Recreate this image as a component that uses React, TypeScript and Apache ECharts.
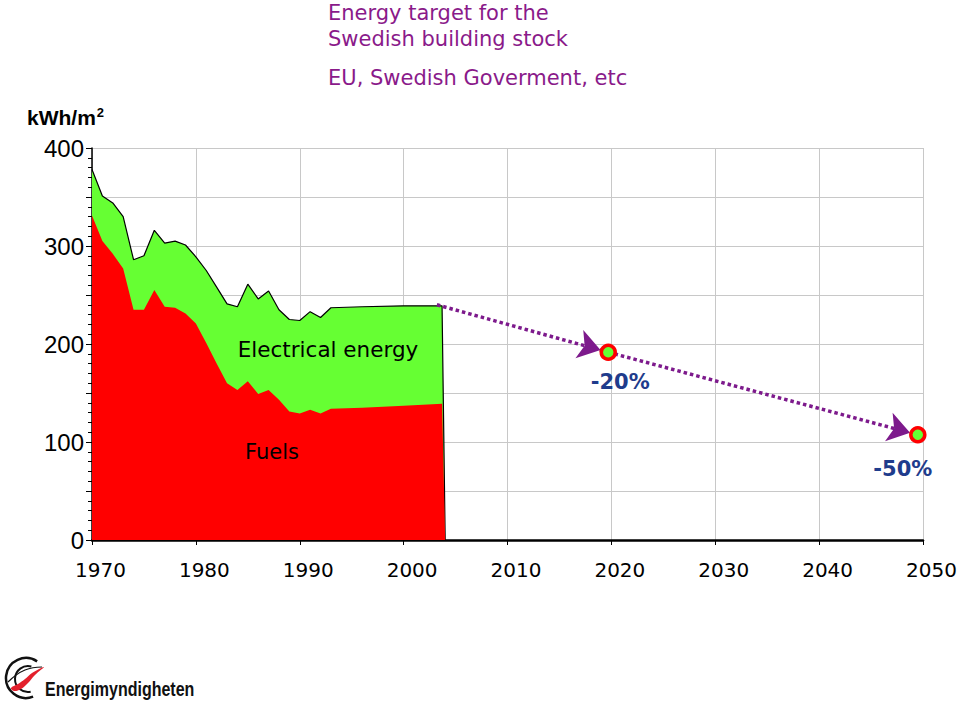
import React, { useEffect, useRef } from "react";
import * as echarts from "echarts";

// ---- data ----
const years = [
  1970, 1971, 1972, 1973, 1974, 1975, 1976, 1977, 1978, 1979, 1980, 1981, 1982,
  1983, 1984, 1985, 1986, 1987, 1988, 1989, 1990, 1991, 1992, 1993, 1996, 2000,
  2003.7, 2004,
];
const fuels = [
  331, 305, 292, 277, 235, 235, 255, 238, 237, 231, 221, 201, 180, 160, 153,
  162, 149, 153, 143, 131, 129, 133, 129, 134, 135, 137, 139, 0,
];
const electrical = [
  47, 46, 52, 53, 51, 55, 61, 65, 68, 70, 68, 74, 78, 81, 85, 99, 97, 101, 92,
  94, 95, 100, 98, 103, 103, 102, 100, 0,
];
// target path: start (end of statistics), 2020 target, 2050 target
const targetYears = [2003.2, 2019.7, 2049.5];
const targetValues = [240, 191.6, 107.4];
const targetLabels = ["", "-20%", "-50%"];

const xTicks = [1970, 1980, 1990, 2000, 2010, 2020, 2030, 2040, 2050];
const yTicks = [0, 100, 200, 300, 400];

const COMIC = "'Comic Sans MS', 'DejaVu Sans', sans-serif";
const PURPLE = "#8a1a8a";

export default function App() {
  const ref = useRef<HTMLDivElement>(null);

  useEffect(() => {
    if (!ref.current) return;
    const chart = echarts.init(ref.current, null, { renderer: "svg" });

    const totalData = years.map((y, i) => [y, fuels[i] + electrical[i]]);
    const fuelData = years.map((y, i) => [y, fuels[i]]);
    const targetPts = targetYears.map((y, i) => [y, targetValues[i]]);

    const option: any = {
      animation: false,
      backgroundColor: "#ffffff",
      title: {
        text: "Energy target for the\nSwedish building stock",
        subtext: "EU, Swedish Goverment, etc",
        left: 328,
        top: 0,
        itemGap: 13,
        padding: 0,
        textStyle: {
          color: PURPLE,
          fontFamily: COMIC,
          fontSize: 21,
          fontWeight: "normal",
          lineHeight: 26,
        },
        subtextStyle: {
          color: PURPLE,
          fontFamily: COMIC,
          fontSize: 21,
          lineHeight: 26,
        },
      },
      grid: { left: 92, top: 148, width: 831, height: 392, containLabel: false },
      xAxis: {
        type: "value",
        min: xTicks[0],
        max: xTicks[xTicks.length - 1],
        interval: 10,
        axisLine: { show: true, lineStyle: { color: "#000", width: 2.5 } },
        axisTick: { show: true, length: 5, lineStyle: { color: "#000", width: 1 } },
        axisLabel: {
          color: "#000",
          fontFamily: COMIC,
          fontSize: 20,
          margin: 20,
          padding: [0, 0, 0, 17],
          formatter: (v: number) => (xTicks.includes(v) ? String(v) : ""),
        },
        splitLine: { show: true, lineStyle: { color: "#c8c8c8", width: 1 } },
      },
      yAxis: {
        type: "value",
        min: 0,
        max: 400,
        interval: 50,
        axisLine: { show: true, lineStyle: { color: "#000", width: 1.5 } },
        axisTick: { show: true, length: 6, lineStyle: { color: "#000", width: 1 } },
        minorTick: { show: true, splitNumber: 5, length: 4, lineStyle: { color: "#000", width: 1 } },
        axisLabel: {
          color: "#000",
          fontFamily: "'Liberation Sans', Arial, sans-serif",
          fontSize: 24,
          margin: 8,
          padding: [8, 0, 0, 0],
          formatter: (v: number) => (yTicks.includes(v) ? String(v) : ""),
        },
        splitLine: { show: true, lineStyle: { color: "#c8c8c8", width: 1 } },
      },
      series: [
        {
          name: "Electrical energy",
          type: "line",
          data: totalData,
          symbol: "none",
          lineStyle: { color: "#000", width: 1.2 },
          areaStyle: { color: "#66ff33", opacity: 1 },
          z: 2,
        },
        {
          name: "Fuels",
          type: "line",
          data: fuelData,
          symbol: "none",
          lineStyle: { width: 0, color: "#ff0000" },
          areaStyle: { color: "#ff0000", opacity: 1 },
          z: 3,
        },
        {
          id: "arrows",
          type: "lines",
          coordinateSystem: "cartesian2d",
          symbol: ["none", "arrow"],
          symbolSize: [12, 22],
          lineStyle: { color: "#7d1a8c", width: 3.5, type: [3.5, 3], opacity: 1, curveness: 0 },
          itemStyle: { color: "#7d1a8c" },
          data: [
            { coords: [targetPts[0], targetPts[1]] },
            { coords: [targetPts[1], targetPts[2]] },
          ],
          z: 4,
        },
        {
          name: "Targets",
          type: "scatter",
          symbol: "circle",
          symbolSize: 14,
          itemStyle: { color: "#66ff33", borderColor: "#ff0000", borderWidth: 3.5, opacity: 1 },
          data: targetPts.slice(1).map((p, i) => ({
            value: p,
            label: {
              show: true,
              formatter: targetLabels[i + 1],
              position: "bottom",
              offset: i === 0 ? [12, 6] : [-15, 10],
              color: "#1f3c8c",
              fontFamily: COMIC,
              fontWeight: "bold",
              fontSize: 21,
            },
          })),
          z: 5,
        },
      ],
      graphic: [
        {
          type: "text",
          left: 27,
          top: 106,
          style: {
            text: "{a|kWh/m}{b|2}",
            rich: {
              a: { fontFamily: "'Liberation Sans', Arial, sans-serif", fontWeight: "bold", fontSize: 21, fill: "#000" },
              b: { fontFamily: "'Liberation Sans', Arial, sans-serif", fontWeight: "bold", fontSize: 13, fill: "#000", verticalAlign: "top", padding: [0, 0, 9, 1] },
            },
          },
        },
        {
          type: "text",
          x: 328,
          y: 349,
          style: {
            text: "Electrical energy",
            fill: "#000",
            font: `21.5px ${COMIC}`,
            align: "center",
            verticalAlign: "middle",
          },
          z: 10,
        },
        {
          type: "text",
          x: 272,
          y: 452,
          style: {
            text: "Fuels",
            fill: "#000",
            font: `21px ${COMIC}`,
            align: "center",
            verticalAlign: "middle",
          },
          z: 10,
        },
        // logo
        {
          type: "arc",
          shape: { cx: 26, cy: 678, r: 20, startAngle: -Math.PI / 3.2, endAngle: Math.PI / 2.6, clockwise: false },
          style: { stroke: "#111", lineWidth: 2.5, fill: "none" },
        },
        {
          type: "arc",
          shape: { cx: 28, cy: 679, r: 13, startAngle: -Math.PI / 2.4, endAngle: Math.PI / 2.3, clockwise: false },
          style: { stroke: "#111", lineWidth: 2, fill: "none" },
        },
        {
          type: "bezierCurve",
          shape: { x1: 8, y1: 682, x2: 42, y2: 667, cpx1: 20, cpy1: 670, cpx2: 30, cpy2: 667 },
          style: { stroke: "#111", lineWidth: 1.2, fill: "none" },
        },
        {
          type: "polygon",
          shape: {
            points: [
              [11, 688], [18, 684], [25, 679], [32, 673], [44, 667],
              [35, 675], [28, 683], [21, 689], [14, 691],
            ],
            smooth: 0.4,
          },
          style: { fill: "#e3202c" },
        },
        {
          type: "text",
          x: 45,
          y: 689,
          scaleX: 0.8,
          style: {
            text: "Energimyndigheten",
            fill: "#111",
            font: "bold 20px 'Liberation Sans', Arial, sans-serif",
            verticalAlign: "middle",
          },
        },
      ],
    };

    chart.setOption(option);

    // stop the arrow heads at the edge of the target circles
    const gap = 8;
    const trim = (a: number[], b: number[]) => {
      const pa = chart.convertToPixel({ gridIndex: 0 }, a) as number[];
      const pb = chart.convertToPixel({ gridIndex: 0 }, b) as number[];
      const dx = pb[0] - pa[0];
      const dy = pb[1] - pa[1];
      const L = Math.hypot(dx, dy) || 1;
      return chart.convertFromPixel({ gridIndex: 0 }, [pb[0] - (dx / L) * gap, pb[1] - (dy / L) * gap]) as number[];
    };
    chart.setOption({
      series: [
        {
          id: "arrows",
          data: [
            { coords: [targetPts[0], trim(targetPts[0], targetPts[1])] },
            { coords: [targetPts[1], trim(targetPts[1], targetPts[2])] },
          ],
        },
      ],
    });

    return () => chart.dispose();
  }, []);

  return (
    <div
      ref={ref}
      style={{ position: "fixed", left: 0, top: 0, width: 960, height: 701, background: "#fff" }}
    />
  );
}
